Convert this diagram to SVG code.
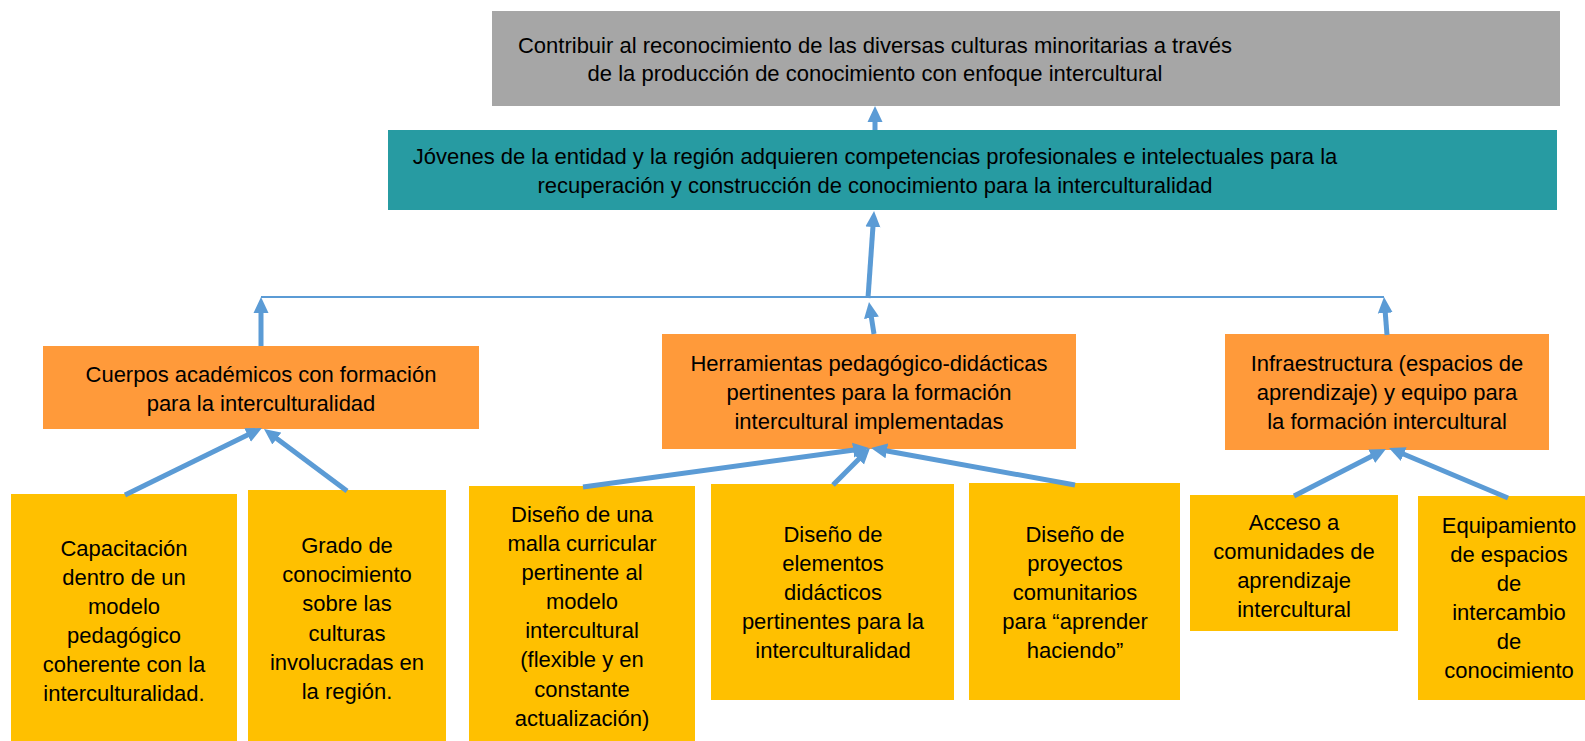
<svg xmlns="http://www.w3.org/2000/svg" width="1585" height="741" viewBox="0 0 1585 741">
<defs>
<marker id="ah" markerUnits="userSpaceOnUse" markerWidth="16" markerHeight="16" viewBox="0 0 16 16" refX="1" refY="8" orient="auto">
<path d="M0,0.5 L16,8 L0,15.5 z" fill="#5B9BD5"/>
</marker>
<style>
text{font-family:"Liberation Sans",Arial,sans-serif;font-size:22px;fill:#000;text-anchor:middle}
.gray{fill:#A6A6A6}
.teal{fill:#279BA2}
.orange{fill:#FF9A3A}
.yellow{fill:#FFC000}
.arr{stroke:#5B9BD5;stroke-width:5;fill:none;marker-end:url(#ah)}
.hl{stroke:#5B9BD5;stroke-width:2;fill:none}
</style>
</defs>
<rect width="1585" height="741" fill="#fff"/>

<g id="goal">
<rect class="gray" x="492" y="11" width="1068" height="95"/>
<text x="875" y="53">Contribuir al reconocimiento de las diversas culturas minoritarias a través</text>
<text x="875" y="81">de la producción de conocimiento con enfoque intercultural</text>
</g>

<g id="purpose">
<rect class="teal" x="388" y="130" width="1169" height="80"/>
<text x="875" y="164">Jóvenes de la entidad y la región adquieren competencias profesionales e intelectuales para la</text>
<text x="875" y="193">recuperación y construcción de conocimiento para la interculturalidad</text>
</g>

<g id="cuerpos">
<rect class="orange" x="43" y="346" width="436" height="83"/>
<text x="261" y="382">Cuerpos académicos con formación</text>
<text x="261" y="411">para la interculturalidad</text>
</g>

<g id="herramientas">
<rect class="orange" x="662" y="334" width="414" height="115"/>
<text x="869" y="371">Herramientas pedagógico-didácticas</text>
<text x="869" y="400">pertinentes para la formación</text>
<text x="869" y="429">intercultural implementadas</text>
</g>

<g id="infraestructura">
<rect class="orange" x="1225" y="334" width="324" height="116"/>
<text x="1387" y="371">Infraestructura (espacios de</text>
<text x="1387" y="400">aprendizaje) y equipo para</text>
<text x="1387" y="429">la formación intercultural</text>
</g>

<g id="capacitacion">
<rect class="yellow" x="11" y="494" width="226" height="247"/>
<text x="124" y="556">Capacitación</text>
<text x="124" y="585">dentro de un</text>
<text x="124" y="614">modelo</text>
<text x="124" y="643">pedagógico</text>
<text x="124" y="672">coherente con la</text>
<text x="124" y="701">interculturalidad.</text>
</g>

<g id="grado">
<rect class="yellow" x="248" y="490" width="198" height="251"/>
<text x="347" y="553">Grado de</text>
<text x="347" y="582">conocimiento</text>
<text x="347" y="611">sobre las</text>
<text x="347" y="641">culturas</text>
<text x="347" y="670">involucradas en</text>
<text x="347" y="699">la región.</text>
</g>

<g id="malla">
<rect class="yellow" x="469" y="486" width="226" height="255"/>
<text x="582" y="522">Diseño de una</text>
<text x="582" y="551">malla curricular</text>
<text x="582" y="580">pertinente al</text>
<text x="582" y="609">modelo</text>
<text x="582" y="638">intercultural</text>
<text x="582" y="667">(flexible y en</text>
<text x="582" y="697">constante</text>
<text x="582" y="726">actualización)</text>
</g>

<g id="elementos">
<rect class="yellow" x="711" y="484" width="243" height="216"/>
<text x="833" y="542">Diseño de</text>
<text x="833" y="571">elementos</text>
<text x="833" y="600">didácticos</text>
<text x="833" y="629">pertinentes para la</text>
<text x="833" y="658">interculturalidad</text>
</g>

<g id="proyectos">
<rect class="yellow" x="969" y="483" width="211" height="217"/>
<text x="1075" y="542">Diseño de</text>
<text x="1075" y="571">proyectos</text>
<text x="1075" y="600">comunitarios</text>
<text x="1075" y="629">para “aprender</text>
<text x="1075" y="658">haciendo”</text>
</g>

<g id="acceso">
<rect class="yellow" x="1190" y="495" width="208" height="136"/>
<text x="1294" y="530">Acceso a</text>
<text x="1294" y="559">comunidades de</text>
<text x="1294" y="588">aprendizaje</text>
<text x="1294" y="617">intercultural</text>
</g>

<g id="equipamiento">
<rect class="yellow" x="1418" y="496" width="182" height="204"/>
<text x="1509" y="533">Equipamiento</text>
<text x="1509" y="562">de espacios</text>
<text x="1509" y="591">de</text>
<text x="1509" y="620">intercambio</text>
<text x="1509" y="649">de</text>
<text x="1509" y="678">conocimiento</text>
</g>

<g id="connectors">
<path class="hl" d="M261,297 H1384"/>
<path class="arr" d="M875,130 L875,121"/>
<path class="arr" d="M868,298 L873,226"/>
<path class="arr" d="M874,334 L871.3,316.8"/>
<path class="arr" d="M261,346 L261,312"/>
<path class="arr" d="M1387,335 L1385.2,312"/>
<path class="arr" d="M125,495 L248.5,434.6"/>
<path class="arr" d="M347,491 L276,438"/>
<path class="arr" d="M583,487 L854.1,450"/>
<path class="arr" d="M833,485 L859.4,458.6"/>
<path class="arr" d="M1075,485 L885.8,450.7"/>
<path class="arr" d="M1294,496 L1372.6,455.8"/>
<path class="arr" d="M1508,498 L1402.8,453.8"/>
</g>
</svg>
